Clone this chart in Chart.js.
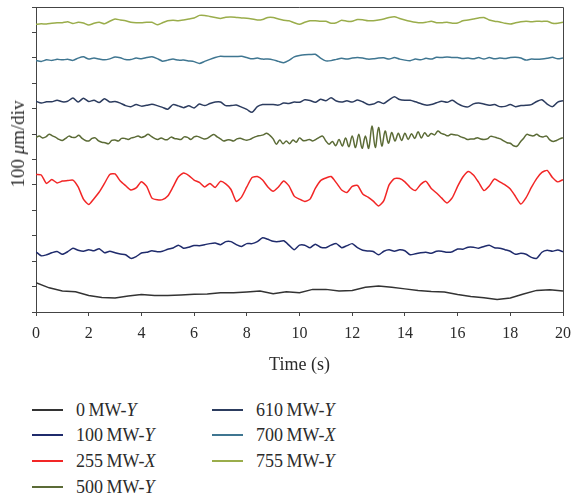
<!DOCTYPE html>
<html lang="en">
  <head>
    <meta charset="UTF-8" />
    <title>Vibration traces</title>
    <script src="https://cdn.jsdelivr.net/npm/chart.js"></script>
    <style>
      body { margin: 0; background: #fff; }
      #wrap { position: relative; width: 579px; height: 498px; font-family: "Liberation Serif", "Times New Roman", serif; color: #2b2b2b; }
      #box { position: absolute; left: 0; top: 0; width: 579px; height: 380px; }
      #ytitle { position: absolute; left: 18px; top: 144px; transform: translate(-50%, -50%) rotate(-90deg); font-size: 19px; white-space: nowrap; }
      .item { position: absolute; height: 26px; display: flex; align-items: center; font-size: 18px; white-space: nowrap; }
      .item span.ln { display: inline-block; width: 31px; height: 1.6px; margin-right: 13px; }
    </style>
  </head>
  <body>
    <div id="wrap">
      <div id="box"><canvas id="chart-trace"></canvas></div>
      <div id="ytitle">100 <i>μ</i>m/div</div>
      <div id="legend"></div>
    </div>
    <script>
      // traces in µm (100 µm per division)
      const labels = ["0 MW-Y", "100 MW-Y", "255 MW-X", "500 MW-Y", "610 MW-Y", "700 MW-X", "755 MW-Y"];
      const colors = ["#333333", "#1f2b6c", "#f22626", "#5b6b36", "#2c3c5f", "#3f7691", "#9aad4b"];
      const steps = [0.5, 0.2, 0.2, 0.125, 0.2, 0.2, 0.2];
      const xTicks = [0, 2, 4, 6, 8, 10, 12, 14, 16, 18, 20];

      const s0 = [
        115, 95, 83, 80, 65, 57, 55, 63, 69, 65,
        65, 67, 70, 71, 76, 76, 79, 83, 72, 80,
        76, 89, 89, 83, 85, 97, 102, 97, 91, 85,
        81, 79, 69, 61, 56, 49, 55, 71, 85, 88,
        83,
      ];
      const s100 = [
        237, 221, 225, 233, 238, 227, 237, 251, 243, 239,
        245, 241, 249, 233, 239, 233, 228, 225, 211, 218,
        232, 235, 241, 237, 239, 247, 252, 263, 251, 255,
        262, 261, 265, 269, 271, 265, 277, 277, 265, 258,
        269, 269, 277, 292, 286, 278, 277, 280, 263, 245,
        263, 263, 253, 267, 255, 253, 263, 269, 253, 261,
        269, 253, 243, 240, 238, 225, 239, 245, 239, 245,
        241, 225, 229, 233, 235, 231, 239, 239, 235, 237,
        248, 247, 255, 255, 251, 258, 263, 253, 251, 245,
        239, 227, 231, 227, 215, 211, 235, 243, 239, 244,
        237,
      ];
      const s255 = [
        541, 539, 506, 521, 508, 515, 517, 519, 492, 444,
        423, 446, 472, 506, 541, 543, 515, 497, 480, 488,
        512, 494, 448, 442, 442, 456, 492, 531, 547, 537,
        519, 510, 492, 506, 490, 514, 504, 482, 435, 452,
        492, 529, 533, 519, 492, 475, 492, 515, 496, 456,
        444, 435, 444, 486, 517, 527, 533, 508, 480, 470,
        494, 498, 464, 452, 436, 417, 438, 500, 525, 525,
        512, 490, 478, 502, 514, 486, 468, 448, 429, 450,
        494, 531, 553, 539, 510, 478, 496, 523, 512, 500,
        484, 454, 425, 450, 490, 525, 549, 557, 529, 512,
        521,
      ];
      const s500 = [
        686, 692, 685, 689, 699, 693, 687, 679, 675, 683,
        692, 687, 687, 695, 683, 675, 673, 683, 685, 673,
        668, 666, 662, 675, 677, 673, 683, 683, 679, 685,
        688, 692, 687, 691, 699, 691, 683, 679, 685, 679,
        679, 688, 683, 681, 679, 689, 687, 679, 689, 691,
        686, 681, 683, 692, 698, 689, 681, 673, 677, 677,
        673, 681, 684, 679, 676, 679, 686, 691, 694, 697,
        703, 695, 681, 660, 677, 662, 673, 662, 677, 668,
        685, 675, 675, 679, 673, 679, 687, 692, 673, 660,
        671, 654, 679, 653, 685, 650, 692, 647, 699, 644,
        692, 644, 732, 647, 726, 653, 712, 664, 706, 673,
        703, 675, 703, 679, 701, 683, 709, 685, 705, 691,
        702, 697, 712, 703, 699, 693, 699, 697, 696, 689,
        685, 679, 681, 681, 686, 681, 679, 681, 691, 689,
        685, 681, 673, 666, 664, 654, 652, 668, 683, 699,
        695, 693, 699, 691, 689, 692, 677, 671, 675, 681,
        686,
      ];
      const s610 = [
        829, 822, 827, 827, 833, 827, 829, 842, 826, 841,
        828, 833, 824, 839, 826, 828, 822, 812, 808, 816,
        810, 813, 817, 812, 805, 798, 816, 811, 804, 811,
        803, 818, 812, 820, 826, 826, 812, 812, 814, 806,
        797, 786, 808, 816, 816, 816, 814, 822, 820, 826,
        825, 835, 832, 825, 837, 831, 843, 830, 826, 831,
        826, 834, 827, 816, 818, 827, 820, 835, 847, 836,
        833, 833, 827, 820, 814, 816, 823, 829, 825, 833,
        820, 810, 807, 819, 822, 818, 813, 816, 808, 809,
        816, 808, 812, 813, 816, 828, 835, 818, 808, 826,
        831,
      ];
      const s700 = [
        989, 986, 992, 990, 994, 992, 994, 990, 999, 1004,
        995, 999, 995, 992, 996, 1003, 1000, 993, 993, 999,
        996, 1001, 1004, 997, 987, 991, 995, 991, 991, 988,
        985, 978, 986, 994, 1001, 1006, 1005, 1005, 1005, 1006,
        1001, 996, 999, 995, 995, 992, 986, 981, 990, 1004,
        1009, 1012, 1013, 1014, 999, 988, 989, 994, 998, 995,
        999, 1001, 999, 995, 996, 999, 1000, 995, 1001, 995,
        991, 989, 995, 992, 998, 995, 1002, 1001, 1003, 1001,
        1001, 997, 999, 996, 1001, 995, 1001, 996, 999, 997,
        1001, 1002, 999, 991, 995, 994, 995, 998, 1002, 996,
        999,
      ];
      const s755 = [
        1132, 1134, 1133, 1136, 1138, 1138, 1142, 1135, 1140, 1137,
        1129, 1136, 1140, 1134, 1144, 1153, 1149, 1146, 1140, 1138,
        1138, 1140, 1140, 1130, 1138, 1146, 1148, 1146, 1149, 1153,
        1157, 1167, 1167, 1163, 1159, 1155, 1160, 1161, 1159, 1157,
        1156, 1153, 1149, 1151, 1159, 1159, 1153, 1148, 1146, 1138,
        1132, 1140, 1146, 1146, 1144, 1144, 1136, 1138, 1148, 1144,
        1144, 1151, 1150, 1146, 1146, 1149, 1153, 1159, 1162, 1155,
        1149, 1144, 1140, 1138, 1140, 1144, 1138, 1138, 1140, 1136,
        1137, 1146, 1149, 1153, 1157, 1159, 1149, 1144, 1141, 1136,
        1133, 1138, 1142, 1144, 1142, 1144, 1143, 1144, 1136, 1136,
        1140,
      ];
      const series = [s0, s100, s255, s500, s610, s700, s755];
      const tensions = [0, 0.2, 0.2, 0.35, 0.25, 0.2, 0.2];

      const datasets = series.map((vals, k) => ({
        label: labels[k],
        data: vals.map((v, i) => ({ x: i * steps[k], y: v })),
        borderColor: colors[k],
        borderWidth: 1.5,
        pointRadius: 0,
        tension: tensions[k],
      }));

      // top and right edges of the frame
      const frame = {
        id: "frame",
        afterDatasetsDraw(chart) {
          const { ctx, chartArea: a } = chart;
          ctx.save();
          ctx.strokeStyle = "#444";
          ctx.lineWidth = 1;
          ctx.beginPath();
          ctx.moveTo(a.left, a.top + 0.5);
          ctx.lineTo(a.right + 0.5, a.top + 0.5);
          ctx.lineTo(a.right + 0.5, a.bottom);
          ctx.stroke();
          ctx.restore();
        },
      };

      const serif = "'Liberation Serif', 'Times New Roman', serif";
      new Chart(document.getElementById("chart-trace"), {
        type: "line",
        data: { datasets },
        options: {
          responsive: true,
          maintainAspectRatio: false,
          animation: false,
          layout: { padding: { top: 7, right: 11, left: 0, bottom: 0 } },
          plugins: { legend: { display: false }, tooltip: { enabled: false } },
          scales: {
            x: {
              type: "linear",
              min: 0,
              max: 20,
              afterBuildTicks: (s) => { s.ticks = xTicks.map((v) => ({ value: v })); },
              afterFit: (s) => { s.height = 68; },
              ticks: { color: "#2b2b2b", font: { family: serif, size: 16 }, padding: 8, maxRotation: 0 },
              grid: { drawOnChartArea: false, color: "#444", tickLength: 4 },
              border: { color: "#444", width: 1 },
              title: { display: true, text: "Time (s)", color: "#2b2b2b", font: { family: serif, size: 18 }, padding: { top: 0, bottom: 4 } },
            },
            y: {
              min: 0,
              max: 1200,
              afterFit: (s) => { s.width = 36; },
              ticks: { stepSize: 100, display: false },
              grid: { drawOnChartArea: false, color: "#444", tickLength: 4 },
              border: { color: "#444", width: 1 },
            },
          },
        },
        plugins: [frame],
      });

      // legend in two columns, with italic axis letter
      const legend = document.getElementById("legend");
      const pos = [[32, 397], [32, 422], [32, 448], [32, 474], [212, 397], [212, 422], [212, 448]];
      labels.forEach((lab, k) => {
        const d = document.createElement("div");
        d.className = "item";
        d.style.left = pos[k][0] + "px";
        d.style.top = pos[k][1] + "px";
        const parts = lab.split(" ");
        const tail = parts[1].split("-");
        d.innerHTML = '<span class="ln" style="background:' + colors[k] + '"></span>' +
          parts[0] + "\u2009" + tail[0] + "-<i>" + tail[1] + "</i>";
        legend.appendChild(d);
      });
    </script>
  </body>
</html>
